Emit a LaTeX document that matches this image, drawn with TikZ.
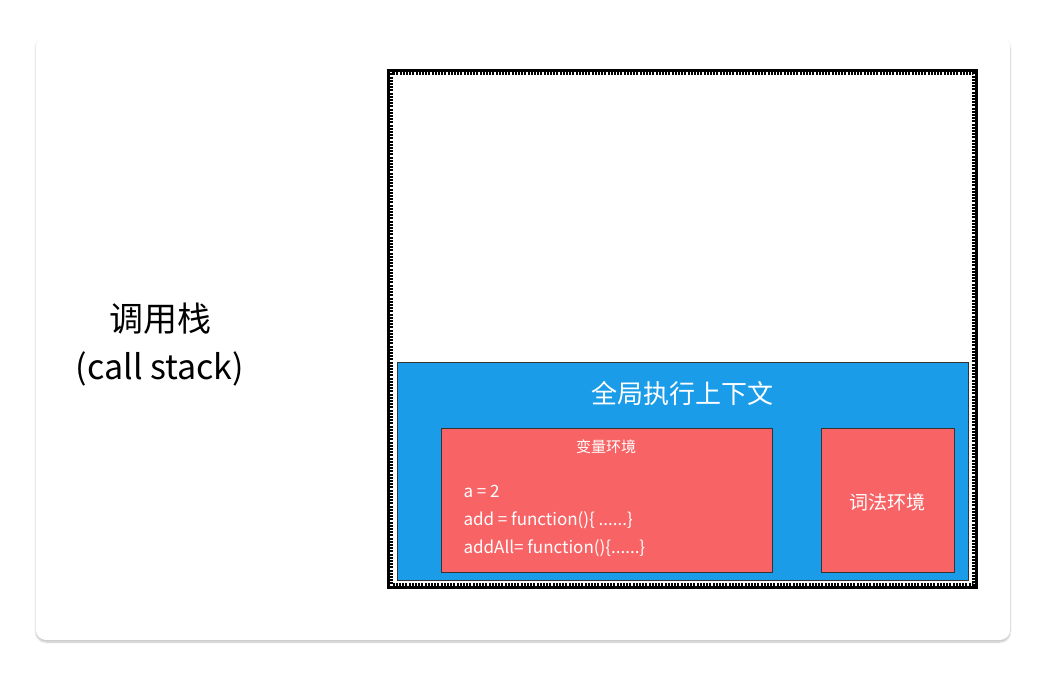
\documentclass[tikz,border=0pt]{standalone}
\usepackage{fontspec}
\newfontfamily\cjk{Noto Sans CJK SC}
\usetikzlibrary{shadows.blur}
\definecolor{bl}{HTML}{1A9CE9}
\definecolor{rd}{HTML}{F86466}
\begin{document}
\begin{tikzpicture}[x=1pt,y=-1pt,
  rbox/.style={draw=black!80,line width=1.2pt,fill=rd},
  wtxt/.style={text=white,font=\cjk}]
\useasboundingbox (0,0) rectangle (1046,676);
\fill[white,rounded corners=10pt,blur shadow={shadow blur steps=10,shadow xshift=0pt,shadow yshift=-2pt,shadow opacity=25}] (36,36) rectangle (1010,640);
\node[font=\cjk\fontsize{34}{48}\selectfont,align=center] (cs) at (160,345) {调用栈\\(call stack)};
\draw[line width=2.2pt] (388.5,70.5) rectangle (976.5,587.5);
\draw[line width=2.5pt,dash pattern=on 2pt off 1.2pt] (391.5,73.5) rectangle (973.5,584.5);
\node[draw=black!80,line width=1.4pt,fill=bl,minimum width=571,minimum height=218,anchor=north west] (g) at (397,362) {};
\node[wtxt,font=\cjk\fontsize{26}{30}\selectfont] (gt) at (682,394) {全局执行上下文};
\node[rbox,minimum width=331,minimum height=144,anchor=north west] (v) at (441,428) {};
\node[wtxt,font=\cjk\fontsize{15}{16}\selectfont] (vt) at (606,447) {变量环境};
\node[wtxt,font=\cjk\fontsize{17}{28}\selectfont,align=left,anchor=north west] (code) at (460,482) {a = 2\\add = function()\{ ......\}\\addAll= function()\{......\}};
\node[rbox,minimum width=133,minimum height=144,anchor=north west] (l) at (821,428) {};
\node[wtxt,font=\cjk\fontsize{19}{22}\selectfont] (lt) at (887,502) {词法环境};
\end{tikzpicture}
\end{document}
